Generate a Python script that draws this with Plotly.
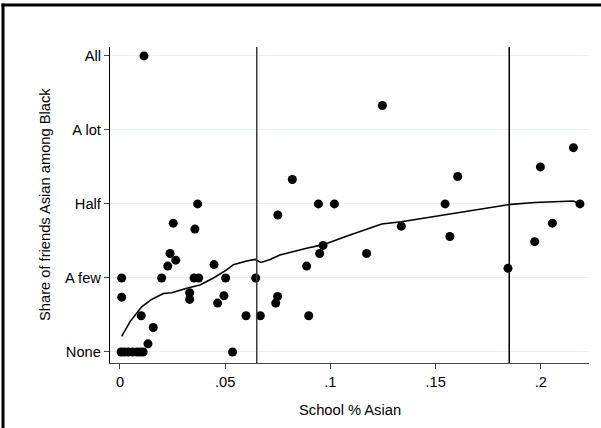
import plotly.graph_objects as go

# Scatter data: school share Asian vs share of friends Asian (0=None ... 4=All)
school_asian = [0.0005, 0.002, 0.004, 0.006, 0.008, 0.0095, 0.011,
                0.0114, 0.0008, 0.0008, 0.0101, 0.0133, 0.0158, 0.0198, 0.0227,
                0.0238, 0.0265, 0.0253, 0.0331, 0.0331, 0.0356, 0.0369, 0.0352,
                0.0374, 0.0447, 0.0464, 0.0494, 0.0502, 0.0535, 0.0599, 0.0645,
                0.0667, 0.0750, 0.0740, 0.0749, 0.0819, 0.0887, 0.0897, 0.0943,
                0.1019, 0.0949, 0.0965, 0.1172, 0.1247, 0.1337, 0.1545, 0.1568,
                0.1605, 0.1844, 0.1971, 0.1998, 0.2055, 0.2155, 0.2186]
friends_asian = [0, 0, 0, 0, 0, 0, 0,
                 4.0, 1.0, 0.74, 0.49, 0.11, 0.33, 1.0, 1.16,
                 1.33, 1.24, 1.74, 0.80, 0.71, 1.66, 2.0, 1.0,
                 1.0, 1.18, 0.66, 0.76, 1.0, 0.0, 0.49, 1.0,
                 0.49, 1.85, 0.66, 0.75, 2.33, 1.16, 0.49, 2.0,
                 2.0, 1.33, 1.44, 1.33, 3.33, 1.70, 2.0, 1.56,
                 2.37, 1.13, 1.49, 2.50, 1.74, 2.76, 2.0]

# Smoothed (lowess) curve
lowess_x = [0.0008, 0.0048, 0.0103, 0.0150, 0.0206, 0.0246, 0.0317, 0.0380,
            0.0444, 0.0507, 0.0539, 0.0602, 0.0642, 0.0670, 0.0713, 0.0760,
            0.0887, 0.0966, 0.1093, 0.1244, 0.1337, 0.1426, 0.1537, 0.1844,
            0.1971, 0.2155, 0.2186]
lowess_y = [0.21, 0.41, 0.61, 0.71, 0.79, 0.80, 0.86, 0.905,
            1.0, 1.11, 1.18, 1.23, 1.25, 1.21, 1.25, 1.31,
            1.40, 1.45, 1.58, 1.73, 1.76, 1.80, 1.86, 1.99,
            2.02, 2.04, 2.0]

y_tick_vals = [0, 1, 2, 3, 4]
y_tick_text = ["None", "A few", "Half", "A lot", "All"]
x_tick_vals = [0, 0.05, 0.1, 0.15, 0.2]
x_tick_text = ["0", ".05", ".1", ".15", ".2"]
ref_lines = [0.065, 0.185]
ref_colors = ["#3a3a3a", "#000000"]

FONT = "Liberation Sans, Arial, sans-serif"
FS = 14.7

fig = go.Figure()
fig.add_trace(go.Scatter(x=school_asian, y=friends_asian, mode="markers",
                         marker=dict(color="black", size=9), showlegend=False,
                         hoverinfo="skip"))
fig.add_trace(go.Scatter(x=lowess_x, y=lowess_y, mode="lines",
                         line=dict(color="black", width=1.6), showlegend=False,
                         hoverinfo="skip"))

L, R, T, B = 110, 12, 47, 65
W, H = 601, 428
pw, ph = W - L - R, H - T - B

def px_x(p):
    return (p - L) / pw

def px_y(p):
    return (H - B - p) / ph

shapes = []
for xv, c in zip(ref_lines, ref_colors):
    shapes.append(dict(type="line", xref="x", yref="paper", x0=xv, x1=xv, y0=0, y1=1,
                       line=dict(color=c, width=1.5), layer="above"))
# blank strip along the right edge of the page
shapes.append(dict(type="rect", xref="paper", yref="paper",
                   x0=px_x(591), x1=px_x(W + 5), y0=px_y(7), y1=px_y(H + 5),
                   line=dict(width=0), fillcolor="white", layer="above"))
# outer frame (top and left edges visible, rest cropped off)
shapes.append(dict(type="line", xref="paper", yref="paper",
                   x0=px_x(1.5), x1=px_x(W), y0=px_y(5), y1=px_y(5),
                   line=dict(color="black", width=3), layer="above"))
shapes.append(dict(type="line", xref="paper", yref="paper",
                   x0=px_x(3), x1=px_x(3), y0=px_y(3.5), y1=px_y(H),
                   line=dict(color="black", width=3), layer="above"))

fig.update_layout(
    width=W, height=H,
    margin=dict(l=L, r=R, t=T, b=B),
    paper_bgcolor="white", plot_bgcolor="white",
    font=dict(family=FONT, size=FS, color="black"),
    shapes=shapes,
    xaxis=dict(range=[-0.00475, 0.2229], tickvals=x_tick_vals, ticktext=x_tick_text,
               showgrid=False, zeroline=False, showline=True, linecolor="#444",
               linewidth=1.2, ticks="outside", ticklen=5, tickcolor="#444",
               tickfont=dict(size=FS, family=FONT)),
    yaxis=dict(range=[-0.149, 4.12], tickvals=y_tick_vals, ticktext=y_tick_text,
               showgrid=True, gridcolor="#e8f0f2", gridwidth=1, zeroline=False,
               showline=True, linecolor="black", linewidth=1.2, ticks="outside",
               ticklen=5, tickcolor="#444", tickfont=dict(size=FS, family=FONT)),
    annotations=[
        dict(text="School % Asian", xref="paper", yref="paper",
             x=px_x(350), y=px_y(410), showarrow=False,
             xanchor="center", yanchor="middle", font=dict(size=FS, family=FONT)),
        dict(text="Share of friends Asian among Black", xref="paper", yref="paper",
             x=px_x(45), y=px_y(205), showarrow=False, textangle=-90,
             xanchor="center", yanchor="middle", font=dict(size=FS, family=FONT)),
    ],
)

fig.write_html(
    "out.html", config={"displayModeBar": False},
    post_script=("document.body.style.margin='0';"
                 "document.documentElement.style.overflow='hidden';"
                 "document.body.style.overflow='hidden';"))
